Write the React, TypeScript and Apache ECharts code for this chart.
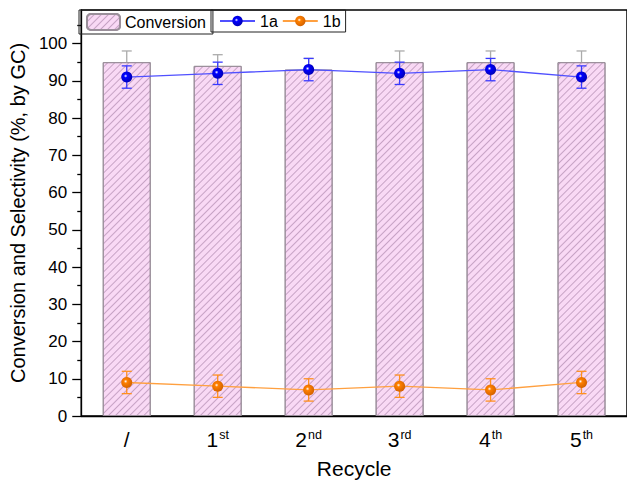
import React, { useEffect, useRef } from "react";
import * as echarts from "echarts";

const categories = ["/", "1st", "2nd", "3rd", "4th", "5th"];
const conversion = [95, 94, 93, 95, 95, 95];
const conversionErr = [3, 3, 3, 3, 3, 3];
const sel1a = [91, 92, 93, 92, 93, 91];
const sel1aErr = [3, 3, 3, 3, 3, 3];
const sel1b = [9, 8, 7, 8, 7, 9];
const sel1bErr = [3, 3, 3, 3, 3, 3];
const yTicks = [0, 10, 20, 30, 40, 50, 60, 70, 80, 90, 100];

const FONT = "Liberation Sans, Arial, sans-serif";

function labelFmt(v: string) {
  const m = v.match(/^(\d+)(st|nd|rd|th)$/);
  if (m) return `{b|${m[1]}}{s|${m[2]}}`;
  return `{b|${v}}`;
}

function errSeries(name: string, vals: number[], errs: number[], color: string, upperOnly: boolean, z: number) {
  return {
    type: "custom",
    name,
    z,
    silent: true,
    data: vals.map((v, i) => [i, v, errs[i]]),
    encode: { x: 0, y: 1 },
    renderItem: (params: any, api: any) => {
      const i = api.value(0);
      const v = api.value(1);
      const e = api.value(2);
      const top = api.coord([i, v + e]);
      const bot = api.coord([i, upperOnly ? v : v - e]);
      const hw = 5;
      const style = { stroke: color, lineWidth: 1.3 };
      const children: any[] = [
        { type: "line", shape: { x1: top[0], y1: top[1], x2: bot[0], y2: bot[1] }, style },
        { type: "line", shape: { x1: top[0] - hw, y1: top[1], x2: top[0] + hw, y2: top[1] }, style },
      ];
      if (!upperOnly) {
        children.push({ type: "line", shape: { x1: bot[0] - hw, y1: bot[1], x2: bot[0] + hw, y2: bot[1] }, style });
      }
      return { type: "group", children };
    },
  };
}

function ball(c1: string, c2: string) {
  return {
    type: "radial",
    x: 0.4,
    y: 0.4,
    r: 0.65,
    colorStops: [
      { offset: 0, color: "#ffffff" },
      { offset: 0.25, color: c1 },
      { offset: 1, color: c2 },
    ],
  };
}

export default function App() {
  const ref = useRef<HTMLDivElement>(null);
  useEffect(() => {
    if (!ref.current) return;
    const chart = echarts.init(ref.current, undefined, { renderer: "svg" });
    const decal = {
      symbol: "rect",
      symbolSize: 1,
      dashArrayX: [1, 0],
      dashArrayY: [1, 3.2],
      rotation: -Math.PI / 4,
      color: "rgba(150,110,150,0.5)",
    };
    const legendText = { fontSize: 16, color: "#000", fontFamily: FONT };
    const option: any = {
      animation: false,
      textStyle: { fontFamily: FONT },
      grid: { left: 80, top: 10, width: 558, height: 413, show: true, borderColor: "#000", borderWidth: 1.5 },
      legend: [
        {
          data: ["Conversion"],
          left: 79,
          top: 10,
          itemWidth: 33,
          itemHeight: 16,
          itemGap: 5,
          padding: [3, 7, 3, 7],
          borderColor: "#222",
          borderWidth: 1,
          textStyle: legendText,
          selectedMode: false,
        },
        {
          data: ["1a", "1b"],
          left: 211,
          top: 10,
          itemWidth: 35,
          itemHeight: 13,
          itemGap: 4,
          padding: [3, 5, 3, 8],
          borderColor: "#222",
          borderWidth: 1,
          textStyle: legendText,
          selectedMode: false,
        },
      ],
      xAxis: [
        {
          type: "category",
          data: categories,
          axisLine: { lineStyle: { color: "#000", width: 1.3 } },
          axisTick: { alignWithLabel: true, length: 8, lineStyle: { color: "#000", width: 1.3 } },
          axisLabel: {
            margin: 12,
            formatter: labelFmt,
            rich: {
              b: { fontSize: 21, color: "#000", fontFamily: FONT, lineHeight: 22 },
              s: { fontSize: 12.5, color: "#000", fontFamily: FONT, verticalAlign: "top", lineHeight: 11, padding: [0, 0, 0, 1] },
            },
          },
          name: "Recycle",
          nameLocation: "middle",
          nameGap: 42,
          nameTextStyle: { fontSize: 21, color: "#000", fontFamily: FONT },
        },
        {
          type: "category",
          data: categories,
          position: "bottom",
          axisLine: { show: false },
          axisTick: { alignWithLabel: false, length: 4, lineStyle: { color: "#000", width: 1.3 } },
          axisLabel: { show: false },
        },
      ],
      yAxis: {
        type: "value",
        min: 0,
        max: 109,
        interval: 10,
        splitLine: { show: false },
        axisLine: { show: true, lineStyle: { color: "#000", width: 1.3 } },
        axisTick: { show: true, length: 9, customValues: yTicks, lineStyle: { color: "#000", width: 1.3 } },
        minorTick: { show: true, splitNumber: 2, length: 4, lineStyle: { color: "#000", width: 1.3 } },
        axisLabel: { customValues: yTicks, margin: 14, fontSize: 17, color: "#000", fontFamily: FONT },
        name: "Conversion and Selectivity (%, by GC)",
        nameLocation: "middle",
        nameGap: 50,
        nameTextStyle: { fontSize: 20, color: "#000", fontFamily: FONT },
      },
      series: [
        {
          type: "bar",
          name: "Conversion",
          data: conversion,
          barWidth: 48,
          z: 1,
          itemStyle: { color: "#f9d9f5", borderColor: "#9a8f9a", borderWidth: 1, decal },
        },
        errSeries("convErr", conversion, conversionErr, "#ababab", true, 2),
        {
          type: "line",
          name: "1a",
          data: sel1a,
          z: 4,
          symbol: "circle",
          symbolSize: 11,
          lineStyle: { color: "#5050ff", width: 1.3 },
          itemStyle: { color: ball("#0000ff", "#0000b0") },
        },
        errSeries("1aErr", sel1a, sel1aErr, "#3a3aff", false, 3),
        {
          type: "line",
          name: "1b",
          data: sel1b,
          z: 4,
          symbol: "circle",
          symbolSize: 11,
          lineStyle: { color: "#ffa040", width: 1.3 },
          itemStyle: { color: ball("#ff8000", "#d06000") },
        },
        errSeries("1bErr", sel1b, sel1bErr, "#ff9020", false, 3),
      ],
    };
    chart.setOption(option);
    return () => chart.dispose();
  }, []);
  return <div ref={ref} style={{ width: 627, height: 484, position: "absolute", left: 0, top: 0 }} />;
}
